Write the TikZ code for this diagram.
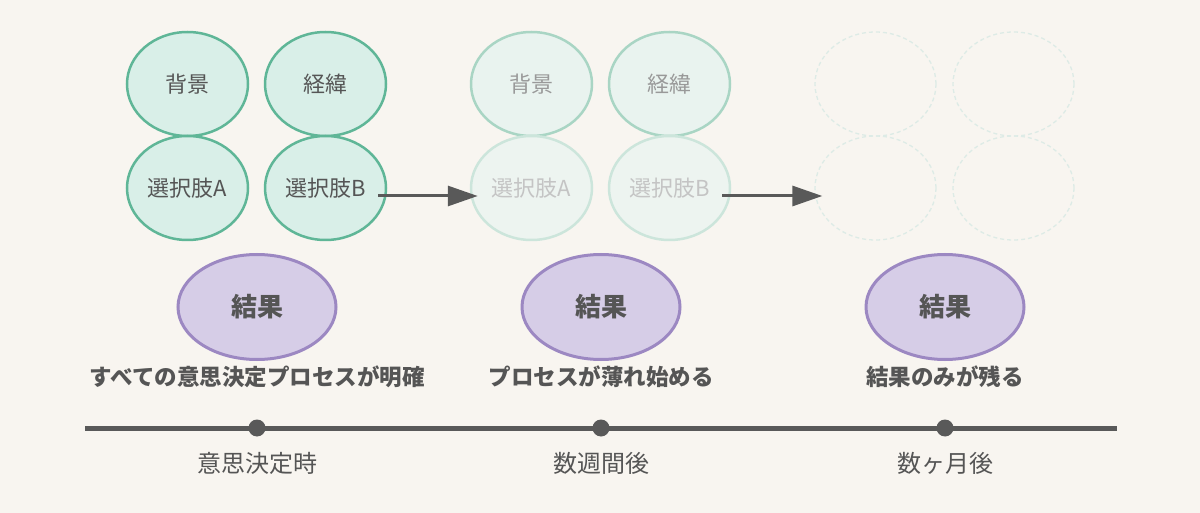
\documentclass[tikz,border=0pt]{standalone}
\usepackage{fontspec}
\setmainfont{Noto Sans CJK JP}
\usetikzlibrary{arrows.meta, shapes.geometric}

\definecolor{bgcol}{HTML}{F8F5F0}
\definecolor{inkgray}{HTML}{555555}
\definecolor{linegray}{HTML}{595959}
\definecolor{mintline}{HTML}{5FB697}
\definecolor{mintfill}{HTML}{D9EFE8}
\definecolor{fadeline}{HTML}{A9D5C4}
\definecolor{fadefill}{HTML}{E9F3EF}
\definecolor{paleline}{HTML}{CCE5DB}
\definecolor{palefill}{HTML}{EDF4F0}
\definecolor{goneline}{HTML}{DDEBE6}
\definecolor{lilacline}{HTML}{9C88C2}
\definecolor{lilacfill}{HTML}{D6CDE7}

\begin{document}
\begin{tikzpicture}[x=1pt, y=1pt,
  memo/.style={ellipse, draw=mintline, fill=mintfill, line width=2.5pt,
    minimum width=121pt, minimum height=104pt, inner sep=0pt,
    text=inkgray, font=\fontsize{22}{22}\selectfont},
  fadememo/.style={memo, draw=fadeline, fill=fadefill, text=inkgray!60},
  palememo/.style={memo, draw=paleline, fill=palefill, text=inkgray!35},
  gonememo/.style={memo, draw=goneline, fill=none, line width=1.3pt,
    dash pattern=on 4pt off 3pt},
  kekka/.style={ellipse, draw=lilacline, fill=lilacfill, line width=3pt,
    minimum width=158pt, minimum height=105pt, inner sep=0pt,
    text=inkgray, font=\fontsize{26}{26}\selectfont\bfseries},
  caption/.style={text=inkgray, font=\fontsize{22.5}{22.5}\selectfont\bfseries},
  when/.style={text=inkgray, font=\fontsize{24}{24}\selectfont},
  tick/.style={circle, fill=linegray, minimum size=17pt, inner sep=0pt},
  arr/.style={draw=linegray, line width=3pt,
    -{Triangle[length=30pt, width=20pt]}}]

\fill[bgcol] (0,0) rectangle (1200,-513);
\useasboundingbox (0,0) rectangle (1200,-513);

% 意思決定時
\node[memo] (bg1) at (187.5,-84) {背景};
\node[memo] (kei1) at (325.5,-84) {経緯};
\node[memo] (sa1) at (187.5,-188) {選択肢A};
\node[memo] (sb1) at (325.5,-188) {選択肢B};

% 数週間後
\node[fadememo] (bg2) at (531.5,-84) {背景};
\node[fadememo] (kei2) at (669.5,-84) {経緯};
\node[palememo] (sa2) at (531.5,-188) {選択肢A};
\node[palememo] (sb2) at (669.5,-188) {選択肢B};

% 数ヶ月後
\node[gonememo] (bg3) at (875.5,-84) {};
\node[gonememo] (kei3) at (1013.5,-84) {};
\node[gonememo] (sa3) at (875.5,-188) {};
\node[gonememo] (sb3) at (1013.5,-188) {};

\draw[arr] ([shift={(-9,-8)}]sb1.east) -- ([shift={(8,-8)}]sa2.west);
\draw[arr] ([shift={(-9,-8)}]sb2.east) -- ([shift={(8,-8)}]sa3.west);

\node[kekka] (res1) at (257,-307) {結果};
\node[kekka] (res2) at (601,-307) {結果};
\node[kekka] (res3) at (945,-307) {結果};
\node[caption] (cap1) at (257,-377) {すべての意思決定プロセスが明確};
\node[caption] (cap2) at (601,-377) {プロセスが薄れ始める};
\node[caption] (cap3) at (945,-377) {結果のみが残る};

% timeline
\coordinate (tl) at (85,-428);
\coordinate (tr) at (1117,-428);
\draw[linegray, line width=5pt] (tl) -- (tr);
\node[tick] (t1) at (257,-428) {};
\node[tick] (t2) at (601,-428) {};
\node[tick] (t3) at (945,-428) {};
\node[when] (w1) at (257,-463) {意思決定時};
\node[when] (w2) at (601,-463) {数週間後};
\node[when] (w3) at (945,-463) {数ヶ月後};
\end{tikzpicture}
\end{document}
